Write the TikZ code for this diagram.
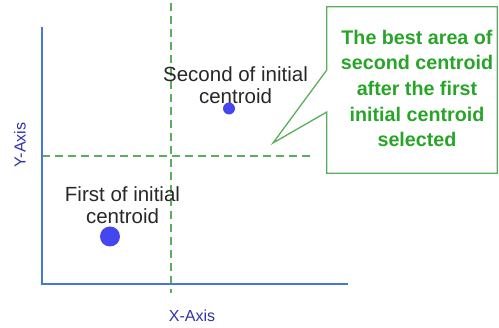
\documentclass[tikz,border=0pt]{standalone}
\usepackage{fontspec}
\setmainfont{Liberation Sans}
\definecolor{axisblue}{RGB}{70,120,210}
\definecolor{dashgreen}{RGB}{90,175,90}
\definecolor{txtgreen}{RGB}{40,165,40}
\definecolor{lblblue}{RGB}{50,50,170}
\definecolor{dotblue}{RGB}{70,70,240}
\definecolor{txtgray}{RGB}{40,40,40}
\begin{document}
\begin{tikzpicture}[x=1pt,y=-1pt,
  axisline/.style={draw=axisblue,line width=1.6pt},
  gdash/.style={draw=dashgreen,line width=1.6pt,dash pattern=on 8pt off 5pt},
  lbl/.style={font=\fontsize{20.5}{22.5}\selectfont,text=txtgray,align=center,inner sep=0pt},
  axlbl/.style={font=\fontsize{16}{18}\selectfont,text=lblblue,inner sep=0pt},
  dot/.style={circle,fill=dotblue,inner sep=0pt},
  callbox/.style={minimum width=170pt,minimum height=166pt,inner sep=0pt},
  calltext/.style={font=\fontsize{19.7}{25.7}\selectfont\bfseries,text=txtgreen,align=center,inner sep=0pt}]
\useasboundingbox (0,0) rectangle (499,328);
\fill[white] (0,0) rectangle (499,328);
% axes
\coordinate (o) at (42,284);
\coordinate (ytop) at (42,27);
\coordinate (xend) at (348,284);
% dashed lines
\coordinate (vtop) at (171,3);
\coordinate (vbot) at (171,293);
\coordinate (hl) at (42,156);
\coordinate (hr) at (310,156);
\draw[gdash] (vtop) -- (vbot);
\draw[gdash] (hl) -- (hr);
\draw[axisline] (ytop) -- (o) -- (xend);
% labels
\node[axlbl,rotate=90] (ylab) at (20,145) {Y-Axis};
\node[axlbl] (xlab) at (192,316) {X-Axis};
% centroids
\node[lbl] (t2) at (235.5,85) {Second of initial\\centroid};
\node[lbl] (t1) at (122.5,205) {First of initial\\centroid};
\node[dot,minimum size=12pt] (c2) at (229,108.5) {};
\node[dot,minimum size=20pt] (c1) at (110,236.5) {};
% callout
\node[callbox] (cb) at (412,90) {};
\node[calltext] (cbt) at (417,88.5) {The best area of\\second centroid\\after the first\\initial centroid\\selected};
\coordinate (tip) at (273,143);
\draw[draw=dashgreen,line width=1.3pt,line join=miter]
  (cb.north west) -- (cb.north east) -- (cb.south east) -- (cb.south west)
  -- ([yshift=-22pt]cb.west) -- (tip) -- ([yshift=20pt]cb.west) -- cycle;
\end{tikzpicture}
\end{document}
